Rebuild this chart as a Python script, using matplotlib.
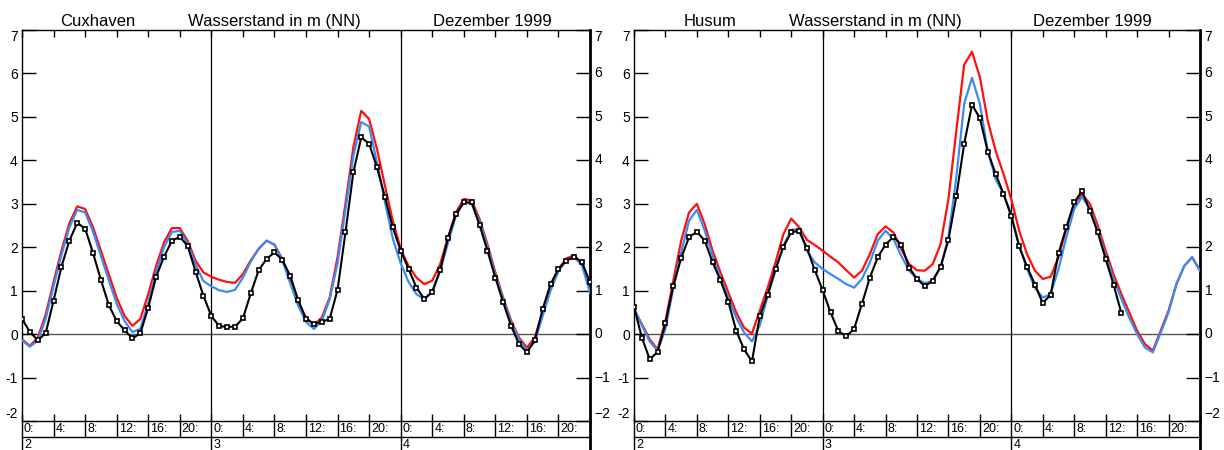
import matplotlib
matplotlib.use("Agg")
import matplotlib.pyplot as plt
from matplotlib.transforms import blended_transform_factory

# -----------------------
# 1. Daten (Stunden ab 2. Dezember 0:00)
# -----------------------
hours = list(range(73))

cux_obs = [0.35, 0.05, -0.14, 0.02, 0.77, 1.55, 2.15, 2.56, 2.43, 1.87,
           1.25, 0.67, 0.30, 0.09, -0.10, 0.02, 0.61, 1.32, 1.78, 2.15,
           2.24, 2.03, 1.44, 0.88, 0.42, 0.18, 0.17, 0.17, 0.36, 0.94,
           1.47, 1.73, 1.88, 1.71, 1.34, 0.79, 0.35, 0.24, 0.28, 0.35,
           1.02, 2.34, 3.72, 4.53, 4.38, 3.84, 3.16, 2.46, 1.92, 1.50,
           1.07, 0.81, 0.97, 1.47, 2.21, 2.76, 3.03, 3.03, 2.51, 1.92,
           1.30, 0.73, 0.19, -0.23, -0.42, -0.14, 0.58, 1.15, 1.50, 1.69,
           1.78, 1.65, 1.19]
cux_red = [-0.12, -0.27, -0.08, 0.45, 1.20, 1.92, 2.55, 2.94, 2.88, 2.46,
           1.92, 1.38, 0.84, 0.42, 0.19, 0.35, 0.92, 1.57, 2.11, 2.44,
           2.44, 2.15, 1.69, 1.42, 1.32, 1.25, 1.20, 1.18, 1.38, 1.70,
           1.96, 2.15, 2.06, 1.73, 1.23, 0.73, 0.38, 0.21, 0.38, 0.84,
           1.77, 3.00, 4.30, 5.14, 4.95, 4.26, 3.42, 2.61, 1.96, 1.57,
           1.30, 1.15, 1.23, 1.61, 2.23, 2.80, 3.11, 3.08, 2.65, 2.07,
           1.42, 0.84, 0.31, -0.08, -0.31, -0.08, 0.50, 1.07, 1.50, 1.74,
           1.82, 1.61, 1.00]
cux_blue = [-0.14, -0.29, -0.15, 0.35, 1.10, 1.82, 2.45, 2.86, 2.80, 2.36,
            1.80, 1.24, 0.70, 0.30, 0.05, 0.12, 0.72, 1.42, 2.00, 2.35,
            2.38, 2.08, 1.60, 1.22, 1.10, 1.01, 0.97, 1.02, 1.30, 1.67,
            1.97, 2.15, 2.06, 1.70, 1.17, 0.66, 0.28, 0.12, 0.30, 0.80,
            1.63, 2.86, 4.10, 4.88, 4.78, 3.95, 3.05, 2.20, 1.63, 1.20,
            0.92, 0.80, 0.98, 1.45, 2.10, 2.72, 3.05, 3.00, 2.60, 2.00,
            1.37, 0.80, 0.27, -0.12, -0.38, -0.18, 0.42, 1.00, 1.45, 1.70,
            1.78, 1.58, 0.95]

hus_obs = [0.63, -0.08, -0.58, -0.41, 0.25, 1.11, 1.75, 2.23, 2.36, 2.15,
           1.65, 1.24, 0.75, 0.08, -0.35, -0.63, 0.41, 0.91, 1.50, 2.01,
           2.34, 2.38, 1.98, 1.47, 1.01, 0.50, 0.07, -0.05, 0.12, 0.70,
           1.30, 1.77, 2.06, 2.24, 2.06, 1.53, 1.27, 1.10, 1.23, 1.55,
           2.17, 3.17, 4.38, 5.28, 4.97, 4.20, 3.69, 3.23, 2.71, 2.02,
           1.55, 1.14, 0.71, 0.91, 1.86, 2.46, 3.03, 3.30, 2.83, 2.34,
           1.73, 1.14, 0.48]
hus_red = [0.58, 0.23, -0.12, -0.35, 0.31, 1.23, 2.15, 2.80, 3.00, 2.53,
           1.92, 1.42, 0.96, 0.50, 0.15, 0.01, 0.54, 1.07, 1.65, 2.30,
           2.66, 2.46, 2.17, 2.05, 1.92, 1.78, 1.65, 1.47, 1.30, 1.46,
           1.84, 2.30, 2.48, 2.34, 1.96, 1.61, 1.47, 1.46, 1.61, 2.07,
           3.11, 4.68, 6.20, 6.50, 5.91, 4.91, 4.22, 3.69, 3.10, 2.38,
           1.84, 1.46, 1.27, 1.32, 1.77, 2.42, 3.00, 3.21, 3.00, 2.50,
           1.92, 1.38, 0.92, 0.50, 0.08, -0.23, -0.38, 0.08, 0.54, 1.15,
           1.57, 1.77, 1.46]
hus_blue = [0.60, 0.20, -0.17, -0.38, 0.12, 1.07, 1.88, 2.61, 2.86, 2.38,
            1.80, 1.30, 0.84, 0.38, 0.04, -0.17, 0.20, 0.88, 1.46, 2.03,
            2.40, 2.41, 1.92, 1.65, 1.50, 1.38, 1.27, 1.15, 1.07, 1.27,
            1.65, 2.15, 2.38, 2.19, 1.80, 1.46, 1.27, 1.17, 1.23, 1.53,
            2.23, 3.61, 5.30, 5.90, 5.30, 4.22, 3.57, 3.23, 2.75, 2.03,
            1.50, 1.07, 0.84, 0.92, 1.50, 2.23, 2.88, 3.16, 2.88, 2.38,
            1.80, 1.27, 0.81, 0.38, 0.00, -0.31, -0.42, 0.03, 0.50, 1.15,
            1.57, 1.77, 1.46]

stations = ["Cuxhaven", "Husum"]
days = ["2", "3", "4"]
y_ticks = list(range(-2, 8))
y_labels_left = ["-2", "-1", "0", "1", "2", "3", "4", "5", "6", "7"]
y_labels_right = ["\u22122", "\u22121", "0", "1", "2", "3", "4", "5", "6", "7"]

# -----------------------
# 2. Figur
# -----------------------
plt.rcParams['font.family'] = ['Liberation Sans', 'DejaVu Sans']
W, H = 1224, 450
fig = plt.figure(figsize=(W / 100, H / 100), dpi=100)

panels = [
    (cux_obs, cux_red, cux_blue, [22, 29, 568, 391], [60, 188, 433]),
    (hus_obs, hus_red, hus_blue, [634, 29, 566, 391], [684, 789, 1033]),
]

for i, (obs, red, blue, box, title_x) in enumerate(panels):
    ax = fig.add_axes([box[0] / W, box[1] / H, box[2] / W, box[3] / H])
    ax.set_xlim(0, 72)
    ax.set_ylim(-2, 7)

    # Nulllinie und Tagesgrenzen
    ax.axhline(0, color='#555555', lw=1.0, zorder=1)
    for d in (24, 48):
        ax.axvline(d, color='black', lw=0.9, zorder=1)

    # Kurven
    ax.plot(hours, red, color='#ff1010', lw=1.6, zorder=2)
    ax.plot(hours, blue, color='#3a8cf5', lw=1.6, zorder=3)
    ax.plot(hours[:len(obs)], obs, color='black', lw=1.5, marker='s',
            ms=3.3, mfc='white', mec='black', mew=1.2, zorder=4)

    # Achsen
    ax.set_xticks(range(0, 73, 4))
    ax.tick_params(axis='x', direction='in', top=True, bottom=True,
                   length=5, width=1, labelbottom=False)
    ax.set_yticks(y_ticks)
    ax.set_yticklabels(y_labels_left, fontsize=10)
    ax.tick_params(axis='y', direction='in', left=True, right=True,
                   length=10, width=1, pad=3)
    for lbl in ax.get_yticklabels():
        if lbl.get_text() == "7":
            lbl.set_va('top')
        elif lbl.get_text() == "-2":
            lbl.set_va('bottom')
    for s in ['left', 'top', 'bottom']:
        ax.spines[s].set_linewidth(1)
    ax.spines['right'].set_linewidth(2)

    # rechte Beschriftung
    ytrans = blended_transform_factory(ax.transAxes, ax.transData)
    for v, lab in zip(y_ticks, y_labels_right):
        va = 'center'
        if v == 7:
            va = 'top'
        elif v == -2:
            va = 'bottom'
        ax.text(1.008, v, lab, transform=ytrans, ha='left', va=va, fontsize=10)

    # Zeitleiste unten
    trans = blended_transform_factory(ax.transData, ax.transAxes)
    r1 = -16 / box[3]
    r2 = -29 / box[3]
    ax.plot([0, 72], [r1, r1], color='black', lw=1, transform=trans, clip_on=False)
    for h in range(0, 72, 4):
        ax.plot([h, h], [0, r1], color='black', lw=1, transform=trans, clip_on=False)
        ax.text(h + 0.25, r1 / 2, f"{h % 24}:", transform=trans, ha='left',
                va='center', fontsize=9)
    for k, d in enumerate(days):
        ax.plot([24 * k, 24 * k], [r1, r2], color='black', lw=1,
                transform=trans, clip_on=False)
        ax.text(24 * k + 0.25, r1 - 0.004, d, transform=trans, ha='left',
                va='top', fontsize=9)
    ax.plot([72, 72], [0, r2], color='black', lw=2, transform=trans, clip_on=False)

    # Titel
    titles = [stations[i], "Wasserstand in m (NN)", "Dezember 1999"]
    for tx, t in zip(title_x, titles):
        fig.text(tx / W, 1 - 26 / H, t, ha='left', va='baseline', fontsize=12)

fig.savefig("out.png", dpi=100)
